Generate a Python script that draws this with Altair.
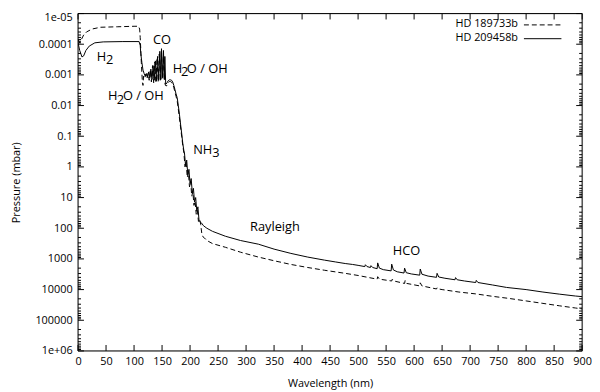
import json
import altair as alt
import pandas as pd

# ---------------- data ----------------
# HD 209458b (solid line)
WL_209 = [0, 3, 7, 10, 14, 20, 30, 45, 80, 109,
          111, 112, 114, 116, 118, 120, 122, 124, 126, 128,
          130, 132, 134, 136, 138, 140, 142, 144, 146, 148,
          149, 151, 152.5, 154, 155, 156.5, 157, 159, 161, 163,
          165, 167, 169, 171, 173, 175, 177, 179, 181, 183,
          185, 187, 189, 190, 192, 194, 196, 198, 200, 202,
          204, 206, 208, 210, 212, 214, 216, 217, 220, 224,
          230, 240, 263, 290, 322, 350, 380, 410, 440, 460,
          477, 490, 500, 512, 513, 516, 522, 523, 526, 534,
          535, 538, 545, 559, 560, 563, 570, 582, 583, 586,
          595, 610, 611, 614, 625, 640, 641, 644, 655, 673,
          674, 677, 690, 710, 711, 714, 740, 765, 800, 830,
          860, 888, 900]
P_209 = [9.0e-5, 1.6e-4, 2.6e-4, 2.4e-4, 1.6e-4, 1.15e-4, 9.0e-5, 8.4e-5, 8.2e-5, 8.2e-5,
         1.1e-4, 2.0e-4, 4.0e-4, 7.0e-4, 9.0e-4, 1.1e-3, 9.0e-4, 1.2e-3, 8.0e-4, 1.3e-3,
         6.5e-4, 1.4e-3, 5.0e-4, 1.5e-3, 3.5e-4, 1.6e-3, 2.5e-4, 1.5e-3, 1.7e-4, 1.4e-3,
         1.4e-4, 1.2e-3, 1.6e-4, 1.4e-3, 2.5e-4, 2.0e-3, 2.0e-3, 1.8e-3, 1.55e-3, 1.45e-3,
         1.45e-3, 1.5e-3, 1.7e-3, 2.2e-3, 3.0e-3, 4.2e-3, 5.5e-3, 1.0e-2, 1.9e-2, 4.0e-2,
         8.0e-2, 0.17, 0.3, 0.35, 0.9, 0.6, 1.8, 1.2, 3.5, 2.4,
         7, 5, 14, 10, 28, 20, 55, 60, 66, 83,
         100, 126, 182, 251, 331, 479, 661, 871, 1096, 1259,
         1413, 1514, 1622, 1778, 1549, 1778, 1905, 1660, 1905, 2089,
         1349, 1995, 2239, 2455, 1479, 2291, 2630, 2884, 1995, 2818,
         3090, 3388, 2138, 3162, 3631, 3981, 2951, 3890, 4266, 4786,
         4074, 4786, 5248, 5888, 5012, 5888, 7079, 8511, 10000, 12023,
         14125, 16218, 16982]

# HD 189733b (dashed line)
WL_189 = [0, 3, 6, 10, 15, 25, 40, 70, 100, 108,
          110, 111, 112, 113, 114, 115, 116, 117, 119, 121,
          123, 125, 127, 129, 131, 133, 135, 137, 139, 141,
          143, 145, 147, 149, 151, 153, 155, 156, 157, 159,
          161, 163, 165, 167, 169, 171, 173, 175, 177, 179,
          181, 183, 185, 187, 189, 191, 193, 195, 197, 199,
          201, 203, 205, 207, 209, 211, 213, 215, 217, 219,
          221, 223, 226, 230, 240, 263, 290, 322, 350, 380,
          410, 440, 477, 500, 534, 535, 538, 560, 561, 564,
          583, 584, 587, 610, 611, 614, 640, 641, 644, 650,
          680, 710, 740, 770, 800, 830, 860, 888, 900]
P_189 = [7.0e-5, 9.0e-5, 7.0e-5, 5.0e-5, 4.0e-5, 3.2e-5, 2.8e-5, 2.7e-5, 2.6e-5, 2.6e-5,
         3.2e-5, 6.0e-5, 1.5e-4, 4.0e-4, 9.0e-4, 1.8e-3, 2.2e-3, 1.1e-3, 1.3e-3, 9.5e-4,
         1.3e-3, 9.0e-4, 1.5e-3, 7.0e-4, 1.7e-3, 5.0e-4, 1.8e-3, 3.8e-4, 1.8e-3, 2.8e-4,
         1.7e-3, 2.1e-4, 1.6e-3, 1.9e-4, 1.4e-3, 2.6e-4, 1.8e-3, 2.2e-3, 2.3e-3, 2.2e-3,
         1.8e-3, 1.65e-3, 1.65e-3, 1.75e-3, 2.0e-3, 2.6e-3, 3.6e-3, 5.0e-3, 7.0e-3, 1.3e-2,
         2.5e-2, 5.0e-2, 0.1, 0.2, 0.35, 1.0, 0.7, 2.2, 1.5, 4.5,
         3.0, 9, 6.5, 18, 13, 35, 26, 60, 50, 75,
         150, 190, 210, 251, 316, 417, 603, 871, 1148, 1514,
         1905, 2344, 2951, 3467, 4571, 3802, 4571, 5248, 4571, 5248,
         6310, 5012, 6310, 7586, 6026, 7586, 9550, 8710, 9550, 10000,
         12023, 13804, 16596, 19498, 23442, 28184, 33884, 39811, 42658]

SERIES = ["HD 189733b", "HD 209458b"]

X_TICKS = [0, 50, 100, 150, 200, 250, 300, 350, 400, 450, 500, 550, 600, 650, 700, 750, 800, 850, 900]
Y_TICKS = [1e-5, 1e-4, 1e-3, 1e-2, 1e-1, 1, 10, 100, 1000, 1e4, 1e5, 1e6]
Y_TICK_LABELS = ["1e-05", "0.0001", "0.001", "0.01", "0.1", "1", "10", "100",
                 "1000", "10000", "100000", "1e+06"]
Y_MINOR = [m * t for t in Y_TICKS[:-1] for m in range(2, 10)]

# annotation pieces: text, wavelength, pressure
ANN_TEXT = ["H", "CO", "H", "O / OH", "H", "O / OH", "NH", "Rayleigh", "HCO"]
ANN_WL = [33.5, 133.8, 169.0, 194.3, 53.4, 80.1, 205.5, 307.0, 561.8]
ANN_P = [2.6e-4, 7.2e-5, 6.5e-4, 6.5e-4, 5.0e-3, 5.0e-3, 0.275, 91, 575]
SUB_TEXT = ["2", "2", "2", "3"]
SUB_WL = [49.8, 183.7, 69.2, 239.5]
SUB_P = [3.3e-4, 8.3e-4, 6.7e-3, 0.355]

assert len(WL_209) == len(P_209) and len(WL_189) == len(P_189)

# ---------------- chart ----------------
W, H = 511, 342
FONT = "Open Sans"

xs = alt.Scale(domain=[0, 900], nice=False, zero=False)
ys = alt.Scale(type="log", domain=[1e-5, 1e6], reverse=True, nice=False)

label_expr = json.dumps(Y_TICK_LABELS) + "[round(log(datum.value)/LN10)+5]"

common_axis = dict(ticks=False, domain=False, grid=False, labelFlush=False,
                   labelFont=FONT, labelFontSize=11, labelColor="black",
                   titleFont=FONT, titleFontSize=11, titleFontWeight="normal",
                   titleColor="black")
x_axis = alt.Axis(values=X_TICKS, title="Wavelength (nm)", labelPadding=5,
                  titlePadding=11, **common_axis)
y_axis = alt.Axis(values=Y_TICKS, title="Pressure (mbar)", labelPadding=6,
                  titlePadding=14, labelExpr=label_expr,
                  labelBaseline={"condition": {"test": "datum.value < 2e-5", "value": "top"},
                                 "value": "middle"},
                  labelOffset={"condition": {"test": "datum.value < 2e-5", "value": -2},
                               "value": 0},
                  **common_axis)

X = alt.X("wl:Q", scale=xs, axis=x_axis)
Y = alt.Y("p:Q", scale=ys, axis=y_axis)

solid = alt.Chart(pd.DataFrame({"wl": WL_209, "p": P_209})).mark_line(
    color="black", strokeWidth=1, clip=True
).encode(x=X, y=Y)

dashed = alt.Chart(pd.DataFrame({"wl": WL_189, "p": P_189})).mark_line(
    color="black", strokeWidth=1, strokeDash=[5, 3], clip=True
).encode(x=X, y=Y)

ymaj = pd.DataFrame({"p": Y_TICKS})
ymin = pd.DataFrame({"p": Y_MINOR})
xmaj = pd.DataFrame({"wl": X_TICKS})

def ytick(df, x0, x1):
    return alt.Chart(df).mark_rule(color="black", strokeWidth=1).encode(
        y=Y, x=alt.value(x0), x2=alt.value(x1))

def xtick(df, y0, y1):
    return alt.Chart(df).mark_rule(color="black", strokeWidth=1).encode(
        x=X, y=alt.value(y0), y2=alt.value(y1))

ticks = [
    ytick(ymaj, 0, 6), ytick(ymaj, W - 6, W),
    ytick(ymin, 0, 3), ytick(ymin, W - 3, W),
    xtick(xmaj, H - 6, H), xtick(xmaj, 0, 6),
]

frame = alt.Chart(pd.DataFrame({"t": [0]})).mark_rect(
    fill=None, stroke="black", strokeWidth=1
).encode(x=alt.value(0), x2=alt.value(W), y=alt.value(0), y2=alt.value(H))

ann = alt.Chart(pd.DataFrame({"t": ANN_TEXT, "wl": ANN_WL, "p": ANN_P})).mark_text(
    align="left", baseline="middle", font=FONT, fontSize=13, color="black"
).encode(x=X, y=Y, text="t:N")

sub = alt.Chart(pd.DataFrame({"t": SUB_TEXT, "wl": SUB_WL, "p": SUB_P})).mark_text(
    align="left", baseline="middle", font=FONT, fontSize=13, color="black"
).encode(x=X, y=Y, text="t:N")

leg_text1 = alt.Chart(pd.DataFrame({"t": [SERIES[0]]})).mark_text(
    align="right", baseline="middle", font=FONT, fontSize=11, color="black"
).encode(text="t:N", x=alt.value(446), y=alt.value(11))
leg_text2 = alt.Chart(pd.DataFrame({"t": [SERIES[1]]})).mark_text(
    align="right", baseline="middle", font=FONT, fontSize=11, color="black"
).encode(text="t:N", x=alt.value(446), y=alt.value(25))
leg_line1 = alt.Chart(pd.DataFrame({"t": [SERIES[0]]})).mark_rule(
    color="black", strokeWidth=1, strokeDash=[5, 3]
).encode(x=alt.value(452), x2=alt.value(490), y=alt.value(11.5))
leg_line2 = alt.Chart(pd.DataFrame({"t": [SERIES[1]]})).mark_rule(
    color="black", strokeWidth=1
).encode(x=alt.value(452), x2=alt.value(490), y=alt.value(25.5))

chart = alt.layer(
    solid, dashed, *ticks, frame, ann, sub, leg_text1, leg_text2, leg_line1, leg_line2
).properties(
    width=W, height=H,
    autosize=alt.AutoSizeParams(type="none"),
    padding={"left": 71, "top": 3, "right": 10, "bottom": 38},
).configure_view(
    stroke="black", strokeWidth=1
).configure(background="white")

chart.save("out.html", embed_options={"renderer": "svg", "actions": False})
